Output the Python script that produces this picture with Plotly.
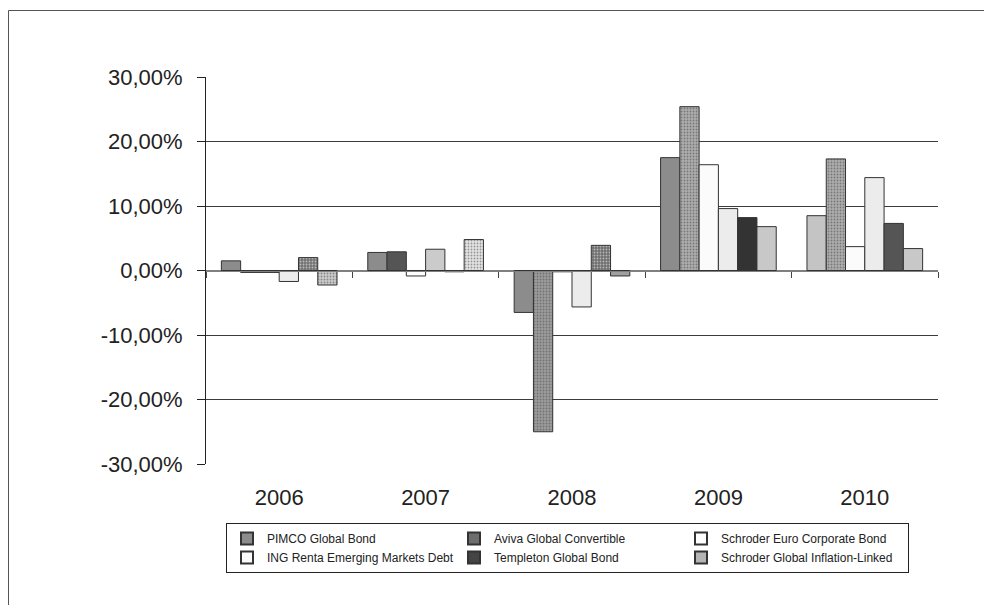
import plotly.graph_objects as go

# ---------------- data ----------------
years = ["2006", "2007", "2008", "2009", "2010"]
series_names = [
    "PIMCO Global Bond",
    "Aviva Global Convertible",
    "Schroder Euro Corporate Bond",
    "ING Renta Emerging Markets Debt",
    "Templeton Global Bond",
    "Schroder Global Inflation-Linked",
]
pimco = [1.5, 2.8, -6.5, 17.5, 8.5]
aviva = [-0.3, 2.9, -25.0, 25.4, 17.3]
schroder_euro = [-0.3, -0.85, -0.2, 16.4, 3.7]
ing = [-1.7, 3.3, -5.65, 9.6, 14.4]
templeton = [2.0, -0.2, 3.9, 8.2, 7.3]
schroder_infl = [-2.25, 4.8, -0.85, 6.8, 3.4]
y_ticks = [-30, -20, -10, 0, 10, 20, 30]
y_tick_text = [f"{v:.2f}".replace(".", ",") + "%" for v in y_ticks]

values = [pimco, aviva, schroder_euro, ing, templeton, schroder_infl]

# ---------------- styles ----------------
legend_colors = ["#8c8c8c", "#6e6e6e", "#ffffff", "#fafafa", "#444444", "#b4b4b4"]
point_colors = [
    ["#8c8c8c", "#8c8c8c", "#8c8c8c", "#8c8c8c", "#c4c4c4"],
    ["#707070", "#555555", "#9c9c9c", "#adadad", "#adadad"],
    ["#a0a0a0", "#ffffff", "#a0a0a0", "#fbfbfb", "#fbfbfb"],
    ["#ececec", "#cbcbcb", "#ececec", "#ececec", "#ececec"],
    ["#737373", "#222222", "#6e6e6e", "#333333", "#555555"],
    ["#cccccc", "#e4e4e4", "#a0a0a0", "#c8c8c8", "#c8c8c8"],
]
point_patterns = [
    ["", "", "", "", ""],
    ["", "", ".", ".", "."],
    ["", "", "", "", ""],
    ["", "", "", "", ""],
    [".", "", ".", "", ""],
    [".", ".", "", "", ""],
]
pattern_fg = [
    ["#808080"] * 5,
    ["#808080", "#808080", "#8a8a8a", "#9e9e9e", "#9e9e9e"],
    ["#808080"] * 5,
    ["#808080"] * 5,
    ["#5e5e5e"] * 5,
    ["#bcbcbc", "#d4d4d4", "#bcbcbc", "#bcbcbc", "#bcbcbc"],
]

fig = go.Figure()
for i, name in enumerate(series_names):
    fig.add_trace(go.Bar(
        x=years, y=values[i], name=name, showlegend=False,
        marker=dict(
            color=point_colors[i],
            line=dict(color="#333333", width=1),
            pattern=dict(shape=point_patterns[i], fgcolor=pattern_fg[i],
                         size=3, solidity=0.3, fillmode="overlay"),
        ),
        hoverinfo="skip",
    ))

# legend-only entries (placed on helper axis so they don't take bar slots)
for i, name in enumerate(series_names):
    fig.add_trace(go.Bar(
        x=years, y=[None] * len(years), name=name, xaxis="x2",
        marker=dict(color=legend_colors[i], line=dict(color="#333333", width=1)),
        hoverinfo="skip",
    ))

font_family = "Arial, Liberation Sans, sans-serif"

# page body has an 8px margin; figure sized/offset to compensate
W, H = 984, 597
ML, MR, MT, MB = 198, 54, 69, 141
PW = W - ML - MR
PH = H - MT - MB

fig.update_layout(
    width=W, height=H,
    margin=dict(l=ML, r=MR, t=MT, b=MB),
    paper_bgcolor="white", plot_bgcolor="white",
    barmode="group", bargap=0.21, bargroupgap=0,
    font=dict(family=font_family, color="#222222"),
    showlegend=True,
    legend=dict(
        orientation="h", x=(218 - ML) / PW, y=-(515 - MT - PH) / PH,
        xanchor="left", yanchor="top",
        bordercolor="#222222", borderwidth=1, bgcolor="white",
        font=dict(size=12, family=font_family, color="#222222"),
        entrywidth=182, entrywidthmode="pixels",
        traceorder="normal", itemsizing="constant", tracegroupgap=0,
    ),
    xaxis=dict(
        type="category", categoryarray=years, range=[-0.5, 4.5],
        showline=False, ticks="", showgrid=False, zeroline=False,
        tickfont=dict(size=22, family=font_family, color="#222222"),
        ticklabelstandoff=18,
    ),
    xaxis2=dict(
        type="category", categoryarray=years, range=[-0.5, 4.5],
        overlaying="x", anchor="free", position=0.5, side="bottom",
        showline=True, linecolor="#808080", linewidth=1,
        ticks="outside", tickson="boundaries", ticklen=6, tickcolor="#444444",
        showticklabels=False, showgrid=False, zeroline=False,
    ),
    yaxis=dict(
        range=[-30, 30], tickvals=y_ticks, ticktext=y_tick_text,
        showline=True, linecolor="#222222", linewidth=1,
        ticks="outside", ticklen=8, tickcolor="#222222",
        showgrid=True, gridcolor="#3c3c3c", gridwidth=1,
        zeroline=True, zerolinecolor="#808080", zerolinewidth=1,
        tickfont=dict(size=22, family=font_family, color="#222222"),
        ticklabelstandoff=10,
    ),
    shapes=[dict(
        type="rect", xref="paper", yref="paper",
        x0=(0.5 - ML) / PW, x1=1.3, y0=-0.6, y1=(MT + PH - 2.5) / PH,
        line=dict(color="#555555", width=1), fillcolor="rgba(0,0,0,0)",
        layer="below",
    )],
)

fig.write_html("out.html")
